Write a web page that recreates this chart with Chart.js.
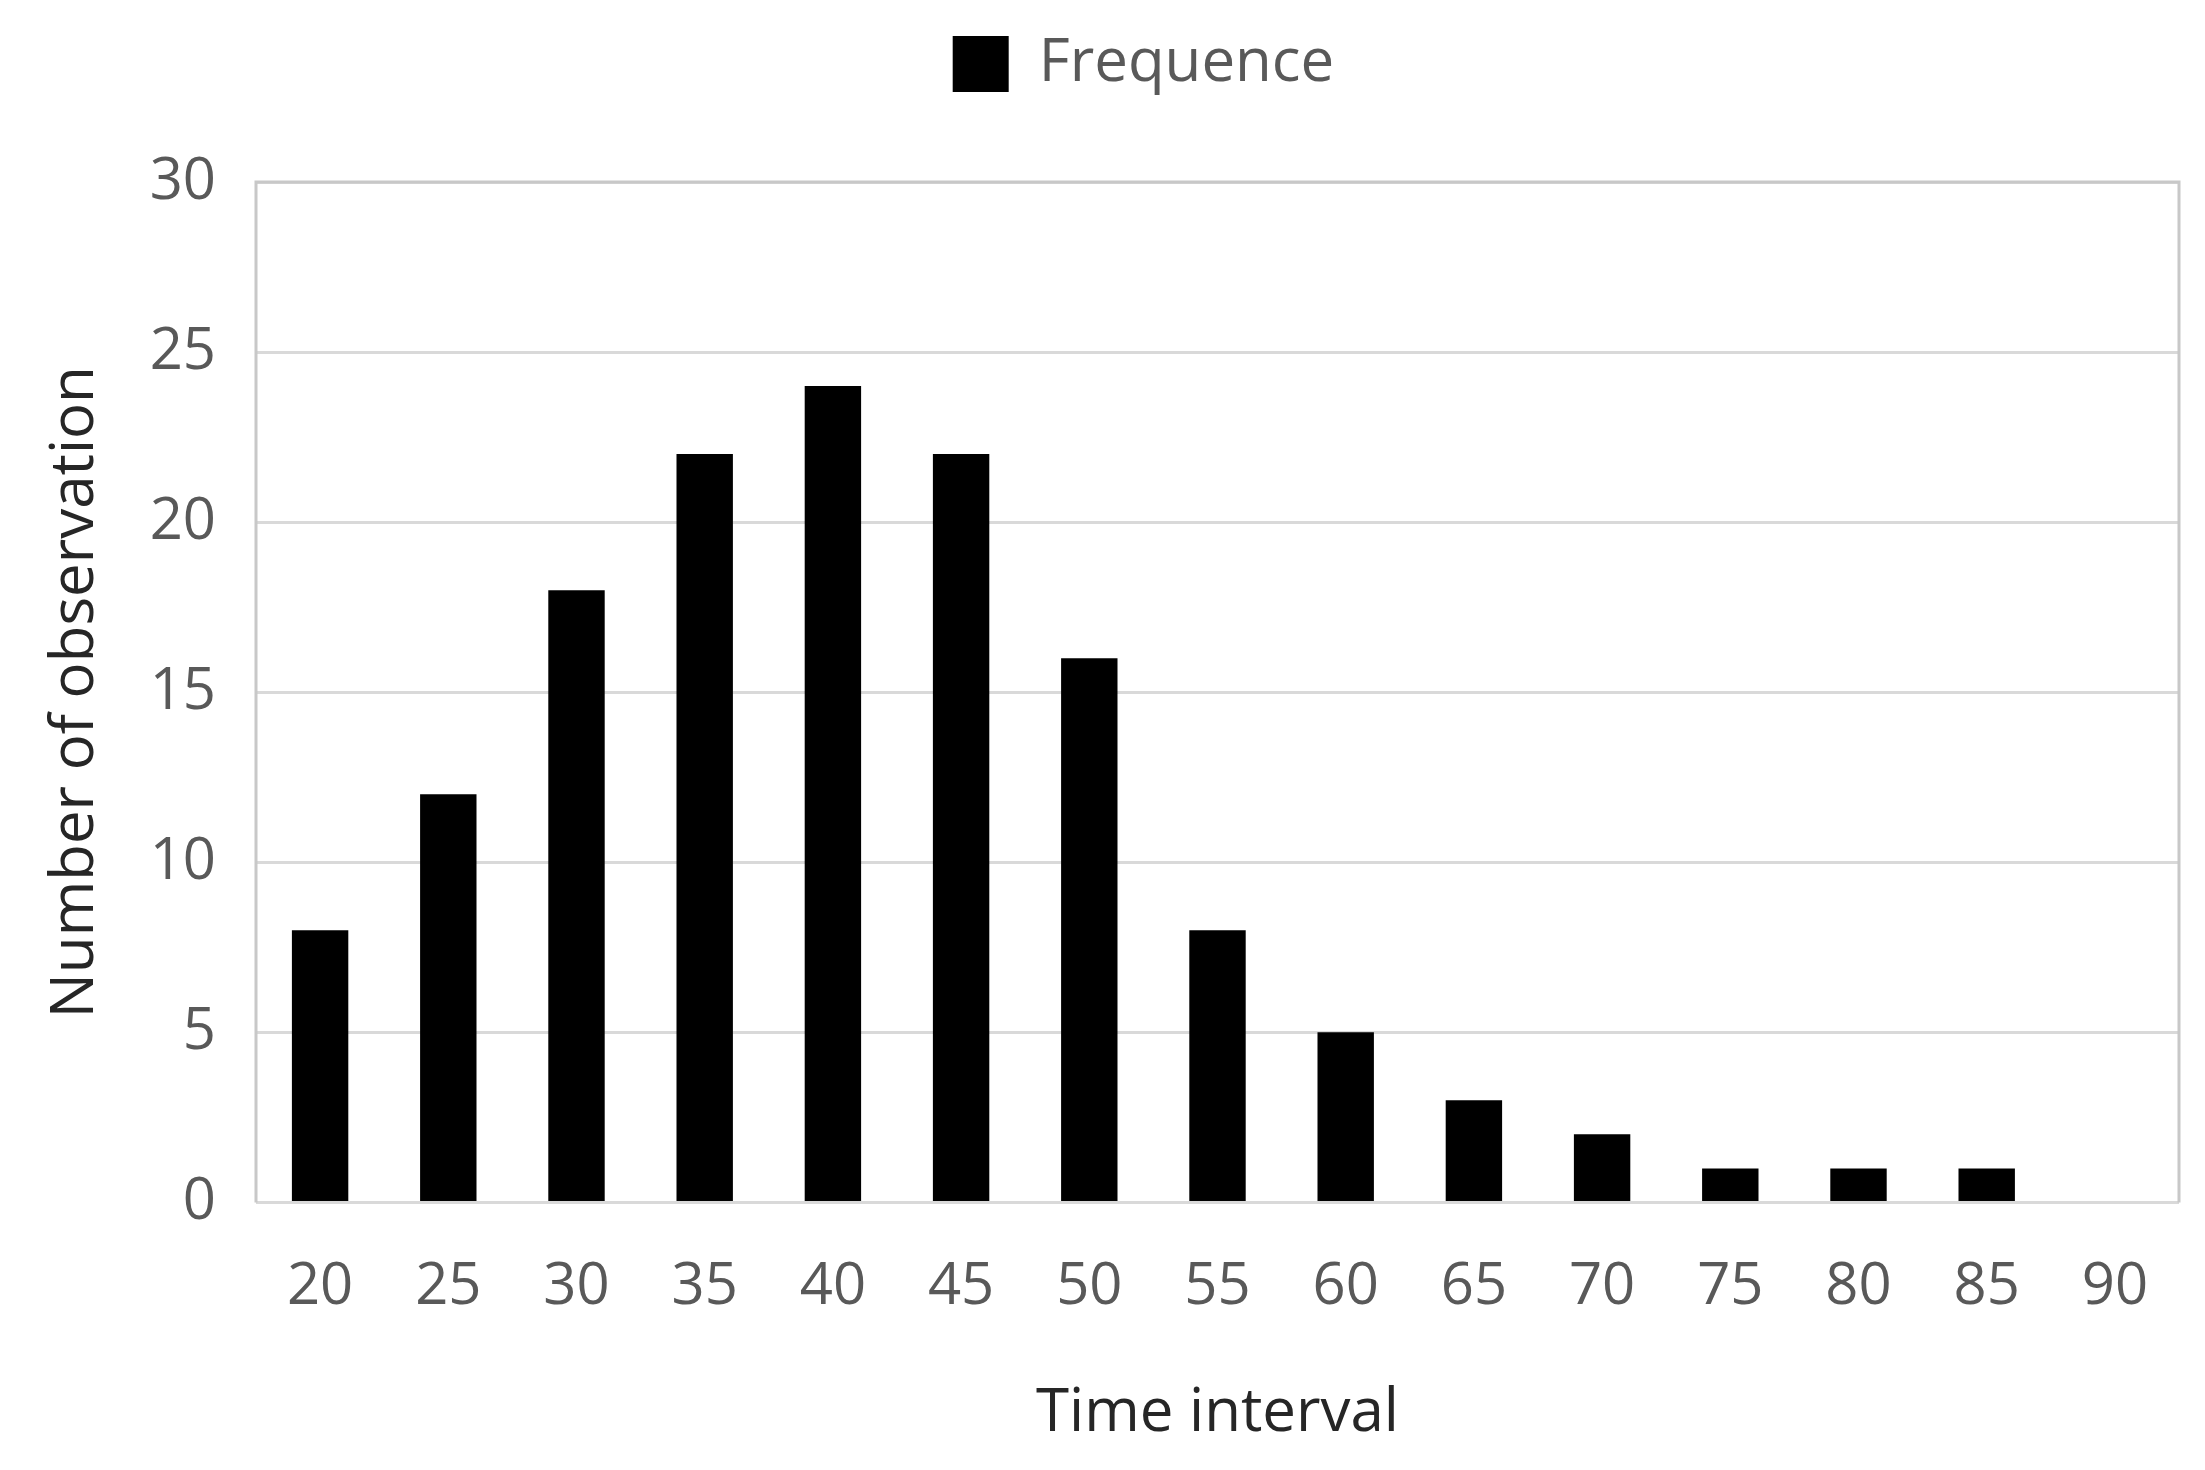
<!DOCTYPE html>
<html>
<head>
<meta charset="utf-8">
<script src="https://cdn.jsdelivr.net/npm/chart.js@4"></script>
<style>
  html, body { margin: 0; padding: 0; background: #fff; }
  #wrap { width: 2205px; height: 1470px; }
</style>
</head>
<body>
<div id="wrap"><canvas id="myChart"></canvas></div>
<script>
var labels = ['20', '25', '30', '35', '40', '45', '50', '55', '60', '65', '70', '75', '80', '85', '90'];
var frequence = [8, 12, 18, 22, 24, 22, 16, 8, 5, 3, 2, 1, 1, 1, 0];
var yTicks = [0, 5, 10, 15, 20, 25, 30];

var fontFamily = "'Open Sans', 'DejaVu Sans', sans-serif";

// grey frame around the plot area
var frame = {
  id: 'frame',
  afterDatasetsDraw: function (chart) {
    var a = chart.chartArea, ctx = chart.ctx;
    ctx.save();
    ctx.strokeStyle = '#c8c8c8';
    ctx.lineWidth = 3;
    ctx.beginPath();
    ctx.moveTo(a.left, a.bottom);
    ctx.lineTo(a.left, a.top);
    ctx.lineTo(a.right, a.top);
    ctx.lineTo(a.right, a.bottom);
    ctx.stroke();
    ctx.restore();
  }
};

// extra room below the legend, and nudge it a bit to the right
var legendGap = {
  id: 'legendGap',
  beforeInit: function (chart) {
    var fit = chart.legend.fit;
    chart.legend.fit = function () {
      fit.bind(chart.legend)();
      this.height += 78;
    };
  },
  afterLayout: function (chart) {
    chart.legend.left += 34;
    chart.legend.right += 34;
  }
};

var ctx = document.getElementById('myChart').getContext('2d');
var chart = new Chart(ctx, {
  type: 'bar',
  data: {
    labels: labels,
    datasets: [{
      label: 'Frequence',
      data: frequence,
      backgroundColor: '#000',
      borderWidth: 0,
      categoryPercentage: 1,
      barPercentage: 0.44
    }]
  },
  options: {
    responsive: true,
    maintainAspectRatio: false,
    animation: false,
    layout: { padding: { left: 40, right: 26, top: 16, bottom: 20 } },
    plugins: {
      tooltip: { enabled: false },
      legend: {
        position: 'top',
        labels: {
          boxWidth: 56,
          boxHeight: 56,
          padding: 18,
          color: '#595959',
          font: { family: fontFamily, size: 60 }
        }
      }
    },
    scales: {
      x: {
        grid: { display: false, drawTicks: false },
        border: { display: false },
        ticks: {
          color: '#595959',
          padding: 50,
          font: { family: fontFamily, size: 58 }
        },
        title: {
          display: true,
          text: 'Time interval',
          color: '#262626',
          padding: { top: 6, bottom: 0 },
          font: { family: fontFamily, size: 60 }
        }
      },
      y: {
        min: 0,
        max: 30,
        afterBuildTicks: function (scale) {
          scale.ticks = yTicks.map(function (v) { return { value: v }; });
        },
        afterFit: function (scale) { scale.width = 216; },
        grid: { color: '#d9d9d9', lineWidth: 3, drawTicks: false },
        border: { display: false },
        ticks: {
          color: '#595959',
          padding: 40,
          font: { family: fontFamily, size: 58 }
        },
        title: {
          display: true,
          text: 'Number of observation',
          color: '#262626',
          padding: { top: 0, bottom: 20 },
          font: { family: fontFamily, size: 60 }
        }
      }
    }
  },
  plugins: [frame, legendGap]
});
</script>
</body>
</html>
